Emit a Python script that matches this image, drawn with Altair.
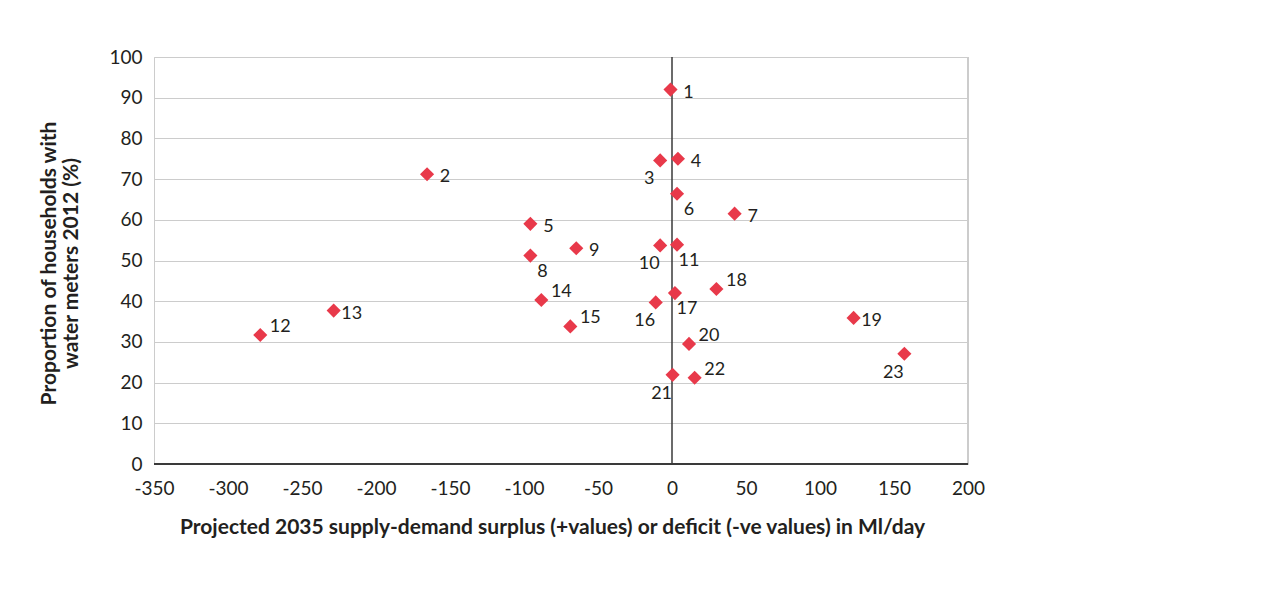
import altair as alt
import pandas as pd

ids = [str(i) for i in range(1, 24)]
surplus = [-1, -165.5, -8, 4, -95.7, 3.4, 42.3, -95.7, -64.7, -8, 3.4,
           -278.2, -228.6, -88.3, -68.7, -11, 2, 30, 122.7, 11.5, 0.4, 15.3, 157]
meters = [92, 71.2, 74.6, 75.0, 59.0, 66.4, 61.5, 51.2, 53.0, 53.7, 53.9,
          31.7, 37.7, 40.3, 33.8, 39.7, 42.0, 43.0, 35.9, 29.5, 21.9, 21.2, 27.1]
placement = ["R", "R", "BL", "R", "R", "BR", "R", "BR", "R", "BL", "BR",
             "AR", "R", "AR", "AR", "BL", "BR", "AR", "R", "AR", "BL", "AR", "BL"]

x_ticks = list(range(-350, 201, 50))
y_ticks = list(range(0, 101, 10))

df = pd.DataFrame({"id": ids, "x": surplus, "y": meters, "pos": placement})

FONT = "Lato"
TXT = "#231f20"
offsets = {"R": (18, 3), "AR": (20, -8), "BR": (12, 16), "BL": (-11, 19)}

xs = alt.Scale(domain=[-350, 200], nice=False, zero=False)
ys = alt.Scale(domain=[0, 100], nice=False)

base = alt.Chart(df)

points = base.mark_point(shape="diamond", filled=True, size=200, color="#e8394a", opacity=1).encode(
    x=alt.X("x:Q", scale=xs,
            axis=alt.Axis(values=x_ticks, grid=False, ticks=False, domain=False,
                          labelExpr="'' + datum.value", labelFlush=False,
                          labelFont=FONT, labelFontSize=19, labelColor=TXT, labelPadding=15,
                          title="Projected 2035 supply-demand surplus (+values) or deficit (-ve values) in Ml/day",
                          titleFont=FONT, titleFontSize=21, titleFontWeight="bold", titleColor=TXT,
                          titleX=398, titleY=63, titleBaseline="middle", titleAlign="center")),
    y=alt.Y("y:Q", scale=ys,
            axis=alt.Axis(values=y_ticks, grid=True, gridColor="#cccccc", gridWidth=1,
                          ticks=False, domain=True, domainColor="#cccccc", domainWidth=1,
                          labelFlush=False,
                          labelFont=FONT, labelFontSize=19, labelColor=TXT, labelPadding=12,
                          title=["Proportion of households with", "water meters 2012 (%)"],
                          titleFont=FONT, titleFontSize=21, titleFontWeight="bold", titleColor=TXT,
                          titleX=-105, titleY=206, titleAngle=-90, titleAlign="center",
                          titleBaseline="middle", titleLineHeight=22)),
)

zero_line = alt.Chart(pd.DataFrame({"x": [0]})).mark_rule(color="#3a3a3a", strokeWidth=1.5).encode(
    x=alt.X("x:Q", scale=xs)
)
bottom_line = alt.Chart(pd.DataFrame({"y": [0]})).mark_rule(color="#3a3a3a", strokeWidth=2).encode(
    y=alt.Y("y:Q", scale=ys)
)
right_line = alt.Chart(pd.DataFrame({"x": [200]})).mark_rule(color="#cccccc", strokeWidth=2).encode(
    x=alt.X("x:Q", scale=xs)
)

label_layers = []
for key, (dx, dy) in offsets.items():
    label_layers.append(
        base.transform_filter(alt.datum.pos == key).mark_text(
            font=FONT, fontSize=18, color=TXT, align="center", baseline="middle", dx=dx, dy=dy
        ).encode(x=alt.X("x:Q", scale=xs), y=alt.Y("y:Q", scale=ys), text="id:N")
    )

chart = alt.layer(right_line, zero_line, bottom_line, points, *label_layers).properties(
    width=814, height=407,
    autosize=alt.AutoSizeParams(type="none"),
    padding={"left": 146, "top": 49, "right": 20, "bottom": 80},
).configure_view(stroke="#cccccc", strokeWidth=1)

chart.save("out.html", embed_options={"renderer": "svg", "actions": False})
